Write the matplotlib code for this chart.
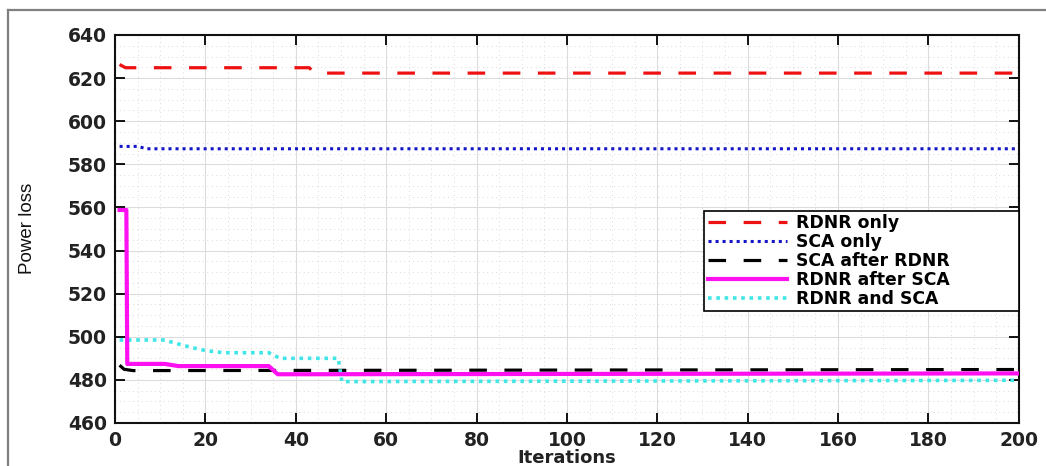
#!/usr/bin/env python3
"""Power loss convergence of RDNR / SCA combinations over iterations."""

import matplotlib
matplotlib.use("Agg")
import matplotlib.pyplot as plt
from matplotlib.lines import Line2D
from matplotlib.ticker import MultipleLocator

# --- data (breakpoints of each convergence curve) ------------------------
RDNR_ONLY_X = [1, 2.3, 43, 44, 200]
RDNR_ONLY_Y = [626.3, 624.8, 624.8, 622.3, 622.3]

SCA_ONLY_X = [1, 5, 7, 200]
SCA_ONLY_Y = [588.3, 588.3, 587.2, 587.2]

SCA_AFTER_RDNR_X = [1, 2, 4, 200]
SCA_AFTER_RDNR_Y = [486.8, 484.9, 484.3, 484.8]

RDNR_AFTER_SCA_X = [1, 2.5, 2.7, 11, 14, 34, 36, 200]
RDNR_AFTER_SCA_Y = [558.8, 558.8, 487.4, 487.4, 486.4, 486.4, 482.6, 483.0]

RDNR_AND_SCA_X = [1, 11, 13, 17, 20, 24, 34, 36.5, 49.4, 50.2, 200]
RDNR_AND_SCA_Y = [498.5, 498.5, 497.2, 495.0, 493.6, 492.6, 492.6, 490.0, 490.0, 479.2, 479.8]

X_TICKS = list(range(0, 201, 20))
Y_TICKS = list(range(460, 641, 20))

FONT = "DejaVu Sans"

fig = plt.figure(figsize=(10.46, 4.66), dpi=100)
ax = fig.add_axes([0.110, 0.0923, 0.864, 0.8327])

ax.plot(RDNR_ONLY_X, RDNR_ONLY_Y, color="#ee1111", lw=2.3,
        dashes=(5.5, 5.5), label="RDNR only", zorder=3)
ax.plot(SCA_ONLY_X, SCA_ONLY_Y, color="#1515c8", lw=2.2,
        dashes=(1.0, 1.3), label="SCA only", zorder=3)
ax.plot(SCA_AFTER_RDNR_X, SCA_AFTER_RDNR_Y, color="black", lw=2.3,
        dashes=(5.5, 5.5), label="SCA after RDNR", zorder=3)
ax.plot(RDNR_AFTER_SCA_X, RDNR_AFTER_SCA_Y, color="#ff10f0", lw=3.0,
        label="RDNR after SCA", zorder=4)
ax.plot(RDNR_AND_SCA_X, RDNR_AND_SCA_Y, color="#40e6e6", lw=2.6,
        dashes=(1.0, 1.3), label="RDNR and SCA", zorder=3)

ax.set_xlim(0, 200)
ax.set_ylim(460, 640)
ax.set_xticks(X_TICKS)
ax.set_yticks(Y_TICKS)
ax.xaxis.set_minor_locator(MultipleLocator(5))
ax.yaxis.set_minor_locator(MultipleLocator(5))

ax.grid(True, which="major", color="#dcdcdc", lw=0.8, linestyle="-")
ax.grid(True, which="minor", color="#dadada", lw=0.7, linestyle=(0, (1, 3.5)))
ax.set_axisbelow(True)

ax.tick_params(which="major", direction="in", length=7, width=1.3,
               top=True, right=True, labelsize=13.5, pad=6)
ax.tick_params(which="minor", length=0, top=True, right=True)
for lab in ax.get_xticklabels() + ax.get_yticklabels():
    lab.set_fontfamily(FONT)
    lab.set_fontweight("bold")
    lab.set_color("#222222")
for sp in ax.spines.values():
    sp.set_linewidth(1.5)
    sp.set_color("#111111")

ax.set_xlabel("Iterations", fontsize=13, fontweight="bold", family=FONT,
              color="#222222", labelpad=-1)
fig.text(0.026, 0.51, "Power loss", rotation=90, ha="center", va="center",
         fontsize=13.5, family=["Liberation Sans Narrow", "Liberation Sans"],
         color="#111111")

leg = ax.legend(loc="upper left", bbox_to_anchor=(0.652, 0.30, 0.348, 0.247),
                mode="expand", frameon=True, fancybox=False, borderaxespad=0,
                handlelength=4.6, handletextpad=0.5, labelspacing=0.05,
                borderpad=0.2, prop={"family": FONT, "weight": "bold", "size": 12.4})
leg.get_frame().set_edgecolor("black")
leg.get_frame().set_linewidth(1.2)
leg.get_frame().set_alpha(1.0)

# outer frame (top and left edges of the original panel)
fig.add_artist(Line2D([8 / 1046, 1.0], [1 - 10 / 466, 1 - 10 / 466],
                      transform=fig.transFigure, color="#808080", lw=1.6))
fig.add_artist(Line2D([8 / 1046, 8 / 1046], [0.0, 1 - 10 / 466],
                      transform=fig.transFigure, color="#808080", lw=1.6))

fig.savefig("out.png", dpi=100)
